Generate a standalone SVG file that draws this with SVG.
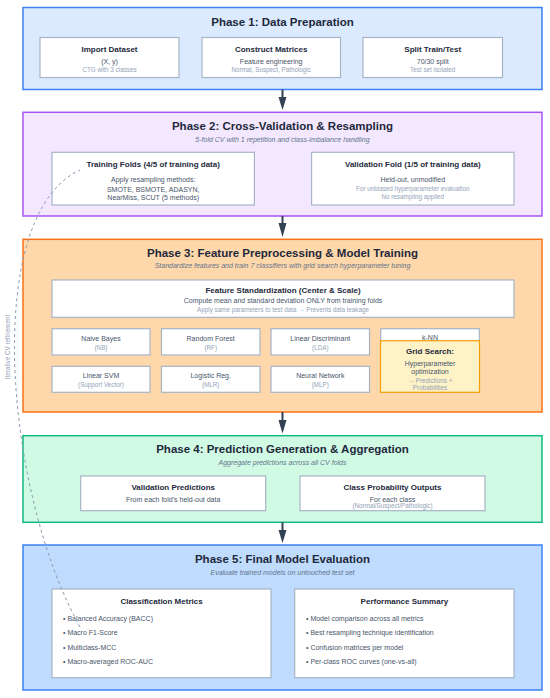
<svg xmlns="http://www.w3.org/2000/svg" width="550" height="698" viewBox="0 0 550 698">
<style>
text{font-family:"Liberation Sans",Arial,Helvetica,sans-serif;}
.ph{stroke-width:1.5;}
.box{fill:#ffffff;stroke:#a7b4c6;stroke-width:1.2;}
.pt{font-size:11.5px;font-weight:bold;fill:#1e293b;text-anchor:middle;}
.ps{font-size:7px;font-style:italic;fill:#64748b;text-anchor:middle;}
.bt{font-size:8px;font-weight:bold;fill:#1e293b;text-anchor:middle;}
.b2{font-size:7px;fill:#475569;text-anchor:middle;}
.b3{font-size:6.3px;fill:#94a3b8;text-anchor:middle;}
.bl{font-size:7px;fill:#475569;}
.arr{stroke:#334155;stroke-width:2;fill:none;}
.ah{fill:#334155;}
</style>
<rect width="550" height="698" fill="#ffffff"/>

<g id="phase1">
<rect class="ph" x="23" y="7.5" width="519" height="82" fill="#dbeafe" stroke="#3b82f6"/>
<text class="pt" x="282.5" y="26.3">Phase 1: Data Preparation</text>
</g>
<g id="import-dataset">
<rect class="box" x="40" y="37.5" width="139" height="40"/>
<text class="bt" x="109.5" y="52.2">Import Dataset</text>
<text class="b2" x="109.5" y="63.8">(X, y)</text>
<text class="b3" x="109.5" y="72.2">CTG with 3 classes</text>
</g>
<g id="construct-matrices">
<rect class="box" x="202" y="37.5" width="138.5" height="40"/>
<text class="bt" x="271.2" y="52.2">Construct Matrices</text>
<text class="b2" x="271.2" y="63.8">Feature engineering</text>
<text class="b3" x="271.2" y="72.2">Normal, Suspect, Pathologic</text>
</g>
<g id="split-train-test">
<rect class="box" x="363" y="37.5" width="139.5" height="40"/>
<text class="bt" x="432.7" y="52.2">Split Train/Test</text>
<text class="b2" x="432.7" y="63.8">70/30 split</text>
<text class="b3" x="432.7" y="72.2">Test set isolated</text>
</g>

<g id="phase2">
<rect class="ph" x="23" y="112.3" width="519" height="103.7" fill="#f3e8ff" stroke="#a855f7"/>
<text class="pt" x="282.5" y="129.7">Phase 2: Cross-Validation &amp; Resampling</text>
<text class="ps" x="282.5" y="141.5">5-fold CV with 1 repetition and class-imbalance handling</text>
</g>
<g id="training-folds">
<rect class="box" x="52" y="152.3" width="202.4" height="52.7"/>
<text class="bt" x="153.2" y="167.2">Training Folds (4/5 of training data)</text>
<text class="b2" x="153.2" y="181.5">Apply resampling methods:</text>
<text class="b2" x="153.2" y="191.5">SMOTE, BSMOTE, ADASYN,</text>
<text class="b2" x="153.2" y="199.5">NearMiss, SCUT (5 methods)</text>
</g>
<g id="validation-fold">
<rect class="box" x="311.6" y="152.3" width="202.4" height="52.7"/>
<text class="bt" x="412.8" y="167.2">Validation Fold (1/5 of training data)</text>
<text class="b2" x="412.8" y="181.5">Held-out, unmodified</text>
<text class="b3" x="412.8" y="191.2">For unbiased hyperparameter evaluation</text>
<text class="b3" x="412.8" y="199.2">No resampling applied</text>
</g>

<g id="phase3">
<rect class="ph" x="23" y="239.3" width="519" height="172.7" fill="#fed7aa" stroke="#f97316"/>
<text class="pt" x="282.5" y="257.3">Phase 3: Feature Preprocessing &amp; Model Training</text>
<text class="ps" x="282.5" y="268.2">Standardize features and train 7 classifiers with grid search hyperparameter tuning</text>
</g>
<g id="feature-standardization">
<rect class="box" x="52" y="280" width="462" height="37.3"/>
<text class="bt" x="283" y="293.2">Feature Standardization (Center &amp; Scale)</text>
<text class="b2" x="283" y="303.2">Compute mean and standard deviation ONLY from training folds</text>
<text class="b3" x="283" y="312.2">Apply same parameters to test data → Prevents data leakage</text>
</g>
<g id="naive-bayes">
<rect class="box" x="52" y="328.7" width="98" height="26.3"/>
<text class="b2" x="101" y="340.8">Naive Bayes</text>
<text class="b3" x="101" y="349.5">(NB)</text>
</g>
<g id="random-forest">
<rect class="box" x="161.5" y="328.7" width="98.5" height="26.3"/>
<text class="b2" x="210.7" y="340.8">Random Forest</text>
<text class="b3" x="210.7" y="349.5">(RF)</text>
</g>
<g id="linear-discriminant">
<rect class="box" x="271" y="328.7" width="98.5" height="26.3"/>
<text class="b2" x="320.3" y="340.8">Linear Discriminant</text>
<text class="b3" x="320.3" y="349.5">(LDA)</text>
</g>
<g id="knn">
<rect class="box" x="380.7" y="328.7" width="98.6" height="26.3"/>
<text class="b2" x="430" y="339.8">k-NN</text>
</g>
<g id="linear-svm">
<rect class="box" x="52" y="366.3" width="98" height="26"/>
<text class="b2" x="101" y="378.2">Linear SVM</text>
<text class="b3" x="101" y="386.5">(Support Vector)</text>
</g>
<g id="logistic-reg">
<rect class="box" x="161.5" y="366.3" width="98.5" height="26"/>
<text class="b2" x="210.7" y="378.2">Logistic Reg.</text>
<text class="b3" x="210.7" y="386.5">(MLR)</text>
</g>
<g id="neural-network">
<rect class="box" x="271" y="366.3" width="98.5" height="26"/>
<text class="b2" x="320.3" y="378.2">Neural Network</text>
<text class="b3" x="320.3" y="386.5">(MLP)</text>
</g>
<g id="grid-search">
<rect x="380.5" y="340.7" width="99" height="51.6" fill="#fef3c7" stroke="#f59e0b" stroke-width="1.2"/>
<text class="bt" x="430" y="353.9">Grid Search:</text>
<text class="b2" x="430" y="365.8">Hyperparameter</text>
<text class="b2" x="430" y="374.2">optimization</text>
<text class="b3" x="430" y="382.9" fill="#8a94a6">→ Predictions +</text>
<text class="b3" x="430" y="389.5" fill="#8a94a6">Probabilities</text>
</g>

<g id="phase4">
<rect class="ph" x="23" y="435.7" width="519" height="86.6" fill="#d1fae5" stroke="#10b981"/>
<text class="pt" x="282.5" y="453.3">Phase 4: Prediction Generation &amp; Aggregation</text>
<text class="ps" x="282.5" y="464.8">Aggregate predictions across all CV folds</text>
</g>
<g id="validation-predictions">
<rect class="box" x="80.7" y="476" width="185" height="34.7"/>
<text class="bt" x="173.2" y="489.6">Validation Predictions</text>
<text class="b2" x="173.2" y="501.5">From each fold's held-out data</text>
</g>
<g id="class-probability-outputs">
<rect class="box" x="300" y="476" width="185" height="34.7"/>
<text class="bt" x="392.5" y="489.6">Class Probability Outputs</text>
<text class="b2" x="392.5" y="501.5">For each class</text>
<text class="b3" x="392.5" y="508.2">(Normal/Suspect/Pathologic)</text>
</g>

<g id="phase5">
<rect class="ph" x="23" y="545" width="519" height="145" fill="#bfdbfe" stroke="#3b82f6"/>
<text class="pt" x="282.5" y="563">Phase 5: Final Model Evaluation</text>
<text class="ps" x="282.5" y="574.8">Evaluate trained models on untouched test set</text>
</g>
<g id="classification-metrics">
<rect class="box" x="52" y="589" width="219" height="88.7"/>
<text class="bt" x="161.5" y="603.6">Classification Metrics</text>
<text class="bl" x="63" y="621.2">• Balanced Accuracy (BACC)</text>
<text class="bl" x="63" y="635.2">• Macro F1-Score</text>
<text class="bl" x="63" y="649.5">• Multiclass-MCC</text>
<text class="bl" x="63" y="663.8">• Macro-averaged ROC-AUC</text>
</g>
<g id="performance-summary">
<rect class="box" x="294.7" y="589" width="219.3" height="88.7"/>
<text class="bt" x="404.4" y="603.6">Performance Summary</text>
<text class="bl" x="306" y="621.2">• Model comparison across all metrics</text>
<text class="bl" x="306" y="635.2">• Best resampling technique identification</text>
<text class="bl" x="306" y="649.5">• Confusion matrices per model</text>
<text class="bl" x="306" y="663.8">• Per-class ROC curves (one-vs-all)</text>
</g>

<g id="connectors">
<line class="arr" x1="282.5" y1="89.5" x2="282.5" y2="99"/>
<path class="ah" d="M278.5,97 L286.5,97 L282.5,110 Z"/>
<line class="arr" x1="282.5" y1="216" x2="282.5" y2="225"/>
<path class="ah" d="M278.5,223 L286.5,223 L282.5,237 Z"/>
<line class="arr" x1="282.5" y1="412" x2="282.5" y2="422"/>
<path class="ah" d="M278.5,420 L286.5,420 L282.5,433.5 Z"/>
<line class="arr" x1="282.5" y1="522.3" x2="282.5" y2="532"/>
<path class="ah" d="M278.5,530 L286.5,530 L282.5,543 Z"/>
<path d="M80,627 C4,490 -18,215 80,170" fill="none" stroke="#8a9ab0" stroke-width="1" stroke-dasharray="3,3"/>
<text x="10" y="347" transform="rotate(-90 10 347)" font-size="6.3" fill="#94a3b8" text-anchor="middle">Iterative CV refinement</text>
</g>
</svg>
